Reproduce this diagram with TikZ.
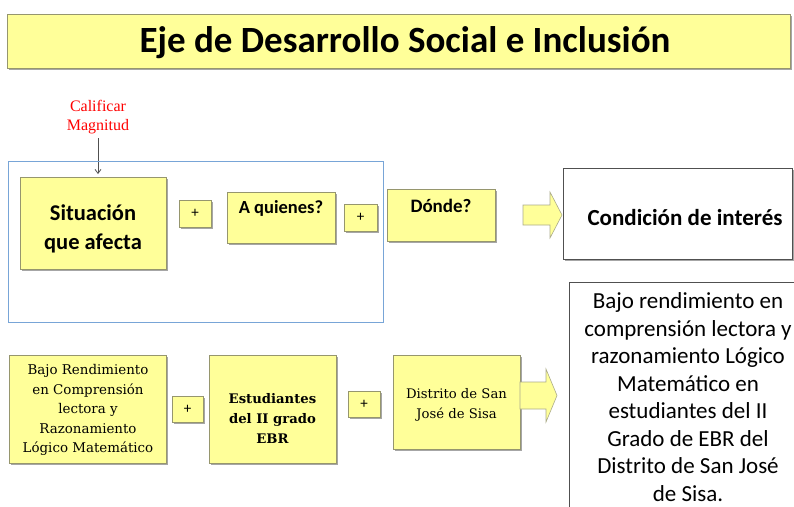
\documentclass[tikz,border=0pt]{standalone}
\usepackage{fontspec}
\setmainfont{Carlito}
\newfontfamily\camfont{DejaVu Serif}
\newfontfamily\timesfont{Liberation Serif}
\usetikzlibrary{shadows,arrows.meta}
\definecolor{byellow}{RGB}{255,255,153}
\definecolor{bedge}{RGB}{150,150,110}
\definecolor{frameblue}{RGB}{120,165,215}
\definecolor{dgray}{RGB}{80,80,80}
\begin{document}
\begin{tikzpicture}[x=1pt,y=-1pt,
  ybox/.style={rectangle, fill=byellow, draw=bedge, line width=0.8pt, inner sep=0pt,
    drop shadow={shadow xshift=1.5pt, shadow yshift=-1.5pt, fill=black, opacity=0.35}},
  plusbox/.style={ybox, font=\fontsize{15}{17}\selectfont},
  wbox/.style={rectangle, fill=white, draw=dgray, line width=0.9pt, inner sep=0pt},
  txt/.style={inner sep=0pt, align=center},
  blockarrow/.style={fill=byellow, draw=bedge!80, line width=0.6pt},
]
\useasboundingbox (0,0) rectangle (794,506);

% title
\node[ybox, minimum width=783pt, minimum height=54pt] (title) at (398.5,41) {};
\node[txt, font=\bfseries\fontsize{37}{40}\selectfont] (titlet) at (405,43)
      {Eje de Desarrollo Social e Inclusión};

% red note and arrow
\node[txt, text=red, font=\timesfont\fontsize{16}{19}\selectfont] (calif) at (98,117)
      {Calificar\\Magnitud};
\coordinate (ctip) at (98,174);
\draw[-{Straight Barb[length=4pt,width=6pt]}, line width=0.8pt, dgray]
      ([yshift=-4pt]calif.south) -- (ctip);

% blue frame
\node[draw=frameblue, line width=0.9pt, minimum width=375pt, minimum height=161pt,
      inner sep=0pt] (frame) at (195.5,241.5) {};

% top row
\node[ybox, minimum width=146pt, minimum height=92pt] (sit) at (93,223) {};
\node[txt, font=\bfseries\fontsize{22.5}{29}\selectfont] (sitt) at (93,229)
      {Situación\\que afecta};
\node[plusbox, minimum width=32pt, minimum height=27pt] (p1) at (195,213.5) {+};
\node[ybox, minimum width=108pt, minimum height=51pt] (aq) at (281,217.5) {};
\node[txt, font=\bfseries\fontsize{18.5}{20}\selectfont] (aqt) at (281,208) {A quienes?};
\node[plusbox, minimum width=33pt, minimum height=27pt] (p2) at (360.5,217.5) {+};
\node[ybox, minimum width=108pt, minimum height=52pt] (don) at (441,215) {};
\node[txt, font=\bfseries\fontsize{19}{20}\selectfont] (dont) at (441,206) {Dónde?};
\filldraw[blockarrow] (523,205) -- (550,205) -- (550,192) -- (562,215)
      -- (550,238) -- (550,225) -- (523,225) -- cycle;
\node[wbox, minimum width=229pt, minimum height=91pt,
      drop shadow={shadow xshift=1.5pt, shadow yshift=-1.5pt, fill=black, opacity=0.35}]
      (cond) at (677.5,213.5) {};
\node[txt, font=\bfseries\fontsize{23}{25}\selectfont] (condt) at (685,218)
      {Condición de interés};

% bottom row
\node[ybox, minimum width=157pt, minimum height=108pt] (bajo) at (87.5,409) {};
\node[txt, font=\camfont\fontsize{13.4}{19.5}\selectfont] (bajot) at (88,410)
      {Bajo Rendimiento\\en Comprensión\\lectora y\\Razonamiento\\Lógico Matemático};
\node[plusbox, minimum width=31pt, minimum height=26pt] (p3) at (187.5,409) {+};
\node[ybox, minimum width=127pt, minimum height=108pt] (est) at (272.5,409) {};
\node[txt, font=\camfont\bfseries\fontsize{13.2}{20}\selectfont] (estt) at (272.5,418)
      {Estudiantes\\del II grado\\EBR};
\node[plusbox, minimum width=32pt, minimum height=26pt] (p4) at (364,404) {+};
\node[ybox, minimum width=127pt, minimum height=94pt] (dis) at (456.5,402) {};
\node[txt, font=\camfont\fontsize{13.2}{20}\selectfont] (dist) at (456.5,405)
      {Distrito de San\\José de Sisa};
\filldraw[blockarrow] (520,382) -- (546,382) -- (546,369) -- (557,395.5)
      -- (546,422) -- (546,409) -- (520,409) -- cycle;

% right text box
\node[wbox, minimum width=231pt, minimum height=240pt] (res) at (684.5,402) {};
\node[txt, font=\fontsize{23}{27.5}\selectfont] (rest) at (688,397)
      {Bajo rendimiento en\\comprensión lectora y\\razonamiento Lógico\\Matemático en\\estudiantes del II\\Grado de EBR del\\Distrito de San José\\de Sisa.};
\end{tikzpicture}
\end{document}
